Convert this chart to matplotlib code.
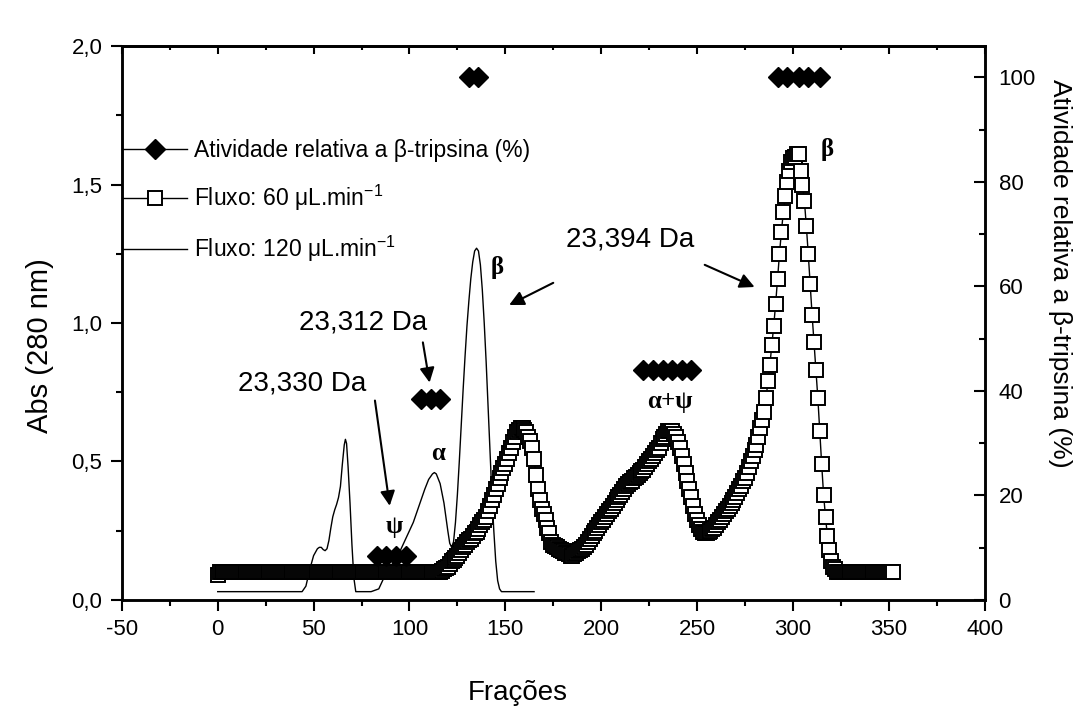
import numpy as np
import matplotlib
matplotlib.use('Agg')
import matplotlib.pyplot as plt
from matplotlib.ticker import MultipleLocator, FuncFormatter

plt.rcParams['font.family'] = ['Liberation Sans', 'DejaVu Sans']
plt.rcParams['mathtext.fontset'] = 'custom'
plt.rcParams['mathtext.rm'] = 'Liberation Sans'
plt.rcParams['axes.unicode_minus'] = False

# Fluxo 60 uL/min: uma leitura por fração (0..352)
flow60 = [
    0.09, 0.10, 0.10, 0.10, 0.10, 0.10, 0.10, 0.10, 0.10, 0.10, 0.10, 0.10, 0.10, 0.10, 0.10, 0.10, 0.10, 0.10, 0.10, 0.10,
    0.10, 0.10, 0.10, 0.10, 0.10, 0.10, 0.10, 0.10, 0.10, 0.10, 0.10, 0.10, 0.10, 0.10, 0.10, 0.10, 0.10, 0.10, 0.10, 0.10,
    0.10, 0.10, 0.10, 0.10, 0.10, 0.10, 0.10, 0.10, 0.10, 0.10, 0.10, 0.10, 0.10, 0.10, 0.10, 0.10, 0.10, 0.10, 0.10, 0.10,
    0.10, 0.10, 0.10, 0.10, 0.10, 0.10, 0.10, 0.10, 0.10, 0.10, 0.10, 0.10, 0.10, 0.10, 0.10, 0.10, 0.10, 0.10, 0.10, 0.10,
    0.10, 0.10, 0.10, 0.10, 0.10, 0.10, 0.10, 0.10, 0.10, 0.10, 0.10, 0.10, 0.10, 0.10, 0.10, 0.10, 0.10, 0.10, 0.10, 0.10,
    0.10, 0.10, 0.10, 0.10, 0.10, 0.10, 0.10, 0.10, 0.10, 0.10, 0.10, 0.10, 0.10, 0.10, 0.10, 0.10, 0.10, 0.105, 0.11, 0.115,
    0.12, 0.13, 0.14, 0.145, 0.15, 0.16, 0.17, 0.18, 0.19, 0.20, 0.21, 0.215, 0.22, 0.23, 0.24, 0.245, 0.255, 0.27, 0.28, 0.29,
    0.30, 0.32, 0.34, 0.36, 0.38, 0.40, 0.42, 0.44, 0.46, 0.475, 0.49, 0.51, 0.53, 0.55, 0.57, 0.59, 0.605, 0.615, 0.62, 0.62,
    0.615, 0.605, 0.59, 0.575, 0.55, 0.51, 0.45, 0.40, 0.36, 0.33, 0.31, 0.29, 0.26, 0.24, 0.21, 0.20, 0.195, 0.19, 0.185, 0.18,
    0.175, 0.17, 0.17, 0.165, 0.16, 0.16, 0.165, 0.17, 0.175, 0.18, 0.185, 0.19, 0.20, 0.21, 0.22, 0.23, 0.24, 0.25, 0.26, 0.27,
    0.28, 0.29, 0.30, 0.31, 0.32, 0.33, 0.34, 0.35, 0.36, 0.37, 0.38, 0.39, 0.40, 0.41, 0.42, 0.425, 0.43, 0.44, 0.445, 0.45,
    0.46, 0.465, 0.47, 0.48, 0.49, 0.50, 0.51, 0.52, 0.53, 0.54, 0.55, 0.565, 0.58, 0.59, 0.60, 0.61, 0.61, 0.61, 0.60, 0.59,
    0.57, 0.55, 0.52, 0.49, 0.46, 0.43, 0.40, 0.37, 0.34, 0.31, 0.29, 0.27, 0.255, 0.245, 0.24, 0.24, 0.245, 0.25, 0.255, 0.26,
    0.27, 0.28, 0.29, 0.30, 0.31, 0.32, 0.33, 0.34, 0.35, 0.36, 0.37, 0.385, 0.40, 0.41, 0.43, 0.44, 0.46, 0.48, 0.50, 0.52,
    0.54, 0.56, 0.59, 0.62, 0.65, 0.68, 0.73, 0.79, 0.85, 0.92, 0.99, 1.07, 1.16, 1.25, 1.33, 1.40, 1.46, 1.51, 1.55, 1.58,
    1.595, 1.60, 1.61, 1.61, 1.55, 1.50, 1.44, 1.35, 1.25, 1.14, 1.03, 0.93, 0.83, 0.73, 0.61, 0.49, 0.38, 0.30, 0.23, 0.18,
    0.14, 0.12, 0.11, 0.10, 0.10, 0.10, 0.10, 0.10, 0.10, 0.10, 0.10, 0.10, 0.10, 0.10, 0.10, 0.10, 0.10, 0.10, 0.10, 0.10,
    0.10, 0.10, 0.10, 0.10, 0.10, 0.10, 0.10, 0.10, 0.10, 0.10, 0.10, 0.10, 0.10,
]
frac60 = np.arange(len(flow60))

# Fluxo 120 uL/min (linha fina)
frac120 = [0, 5, 10, 15, 20, 25, 30, 35, 40, 44,
           46, 47, 48, 50, 52, 53, 54, 55, 56, 57,
           58, 59, 60, 61, 62, 63, 64, 65, 66, 66.6,
           67.2, 68, 69, 70, 71, 72, 75, 80, 84, 86,
           88, 90, 92, 94, 96, 98, 100, 102, 104, 106,
           108, 110, 112, 113, 114, 116, 118, 120, 121, 122,
           123, 124, 125, 126, 127, 128, 129, 130, 131, 132,
           133, 134, 135, 136, 137, 138, 139, 140, 141, 142,
           143, 144, 145, 146, 147, 148, 150, 155, 160, 165]
flow120 = [0.03, 0.03, 0.03, 0.03, 0.03, 0.03, 0.03, 0.03, 0.03, 0.03,
           0.05, 0.08, 0.11, 0.16, 0.185, 0.19, 0.19, 0.182, 0.178, 0.185,
           0.215, 0.26, 0.30, 0.325, 0.345, 0.37, 0.41, 0.49, 0.56, 0.58,
           0.565, 0.48, 0.35, 0.20, 0.08, 0.03, 0.03, 0.03, 0.04, 0.07,
           0.10, 0.12, 0.14, 0.16, 0.19, 0.22, 0.25, 0.28, 0.32, 0.36,
           0.40, 0.435, 0.455, 0.46, 0.455, 0.42, 0.35, 0.25, 0.205, 0.19,
           0.21, 0.28, 0.38, 0.50, 0.63, 0.76, 0.88, 0.99, 1.08, 1.16,
           1.22, 1.26, 1.27, 1.26, 1.21, 1.12, 1.00, 0.86, 0.70, 0.54,
           0.38, 0.25, 0.14, 0.07, 0.04, 0.03, 0.03, 0.03, 0.03, 0.03]

# Atividade relativa a beta-tripsina (%), por grupo de frações
act_frac = [[83, 88, 93, 98], [106, 111, 116], [131, 136],
            [222, 227, 232, 237, 242, 247], [292, 297, 303, 308, 314]]
act_val = [[8.5, 8.5, 8.5, 8.5], [38.5, 38.5, 38.5], [100, 100],
           [44, 44, 44, 44, 44, 44], [100, 100, 100, 100, 100]]

fig = plt.figure(figsize=(10.88, 7.26), dpi=100)
ax = fig.add_axes([0.112, 0.1736, 0.793, 0.763])
ax2 = ax.twinx()

ax.plot(frac120, flow120, color='black', lw=1.0, zorder=2,
        label='Fluxo: 120 μL.min$^{-1}$')
ax.plot(frac60, flow60, color='black', lw=1.0, marker='s', markersize=9.5,
        markerfacecolor='white', markeredgecolor='black', markeredgewidth=1.4,
        zorder=3, label='Fluxo: 60 μL.min$^{-1}$')

for i, (fx, fy) in enumerate(zip(act_frac, act_val)):
    ax2.plot(fx, fy, color='black', lw=1.0, marker='D', markersize=10,
             markerfacecolor='black', markeredgecolor='black',
             label='Atividade relativa a β-tripsina (%)' if i == 0 else None)

ax.set_xlim(-50, 400)
ax.set_ylim(0, 2.0)
ax2.set_ylim(0, 106)

ax.xaxis.set_major_locator(MultipleLocator(50))
ax.xaxis.set_minor_locator(MultipleLocator(25))
ax.yaxis.set_major_locator(MultipleLocator(0.5))
ax.yaxis.set_minor_locator(MultipleLocator(0.25))
ax.yaxis.set_major_formatter(FuncFormatter(lambda v, p: f'{v:.1f}'.replace('.', ',')))
ax2.set_yticks([0, 20, 40, 60, 80, 100])
ax2.yaxis.set_minor_locator(MultipleLocator(10))

ax.tick_params(axis='both', which='major', direction='out', length=8, width=1.5,
               labelsize=16, pad=6)
ax.tick_params(axis='both', which='minor', direction='out', length=4, width=1.5)
ax2.tick_params(axis='y', which='major', direction='in', length=8, width=1.5,
                labelsize=16, pad=10)
ax2.tick_params(axis='y', which='minor', direction='in', length=4, width=1.5)

top = ax.secondary_xaxis('top')
top.xaxis.set_major_locator(MultipleLocator(50))
top.xaxis.set_minor_locator(MultipleLocator(25))
top.tick_params(which='major', direction='in', length=6, width=1.5, labeltop=False)
top.tick_params(which='minor', direction='in', length=3, width=1.5)

for a in (ax, ax2):
    for s in a.spines.values():
        s.set_linewidth(1.8)
top.spines['top'].set_linewidth(1.8)

ax.set_xlabel('Frações', fontsize=20)
ax.xaxis.set_label_coords(0.459, -0.145)
ax.set_ylabel('Abs (280 nm)', fontsize=21)
ax.yaxis.set_label_coords(-0.079, 0.46)
ax2.set_ylabel('Atividade relativa a β-tripsina (%)', fontsize=19, rotation=-90, va='center')
ax2.yaxis.set_label_coords(1.087, 0.59)

# legenda
h1, l1 = ax2.get_legend_handles_labels()
h0, l0 = ax.get_legend_handles_labels()
ax.legend(h1 + [h0[1], h0[0]], l1 + [l0[1], l0[0]], loc='upper left',
          bbox_to_anchor=(0.0, 0.832), frameon=False, fontsize=16.5,
          handlelength=2.85, handletextpad=0.3, labelspacing=0.9, borderaxespad=0,
          borderpad=0)

# anotações de massa
arrow = dict(arrowstyle='-|>', color='black', lw=1.5, mutation_scale=22, shrinkA=0, shrinkB=0)
ax.text(44, 0.78, '23,330 Da', fontsize=20, ha='center', va='center')
ax.annotate('', xy=(89.7, 0.34), xytext=(82, 0.72), arrowprops=arrow)
ax.text(76, 1.0, '23,312 Da', fontsize=20, ha='center', va='center')
ax.annotate('', xy=(110.5, 0.785), xytext=(107, 0.93), arrowprops=arrow)
ax.text(215, 1.30, '23,394 Da', fontsize=20, ha='center', va='center')
ax.annotate('', xy=(152, 1.065), xytext=(175, 1.145), arrowprops=arrow)
ax.annotate('', xy=(280, 1.13), xytext=(254, 1.21), arrowprops=arrow)

greek = dict(fontsize=18, family='Liberation Serif', weight='bold', ha='center', va='center')
ax.text(92, 0.265, 'ψ', **greek)
ax.text(115, 0.53, 'α', **greek)
ax.text(145.5, 1.20, 'β', **greek)
ax.text(236, 0.715, 'α+ψ', **greek)
ax.text(318, 1.625, 'β', **greek)

fig.savefig('out.png', dpi=100)
